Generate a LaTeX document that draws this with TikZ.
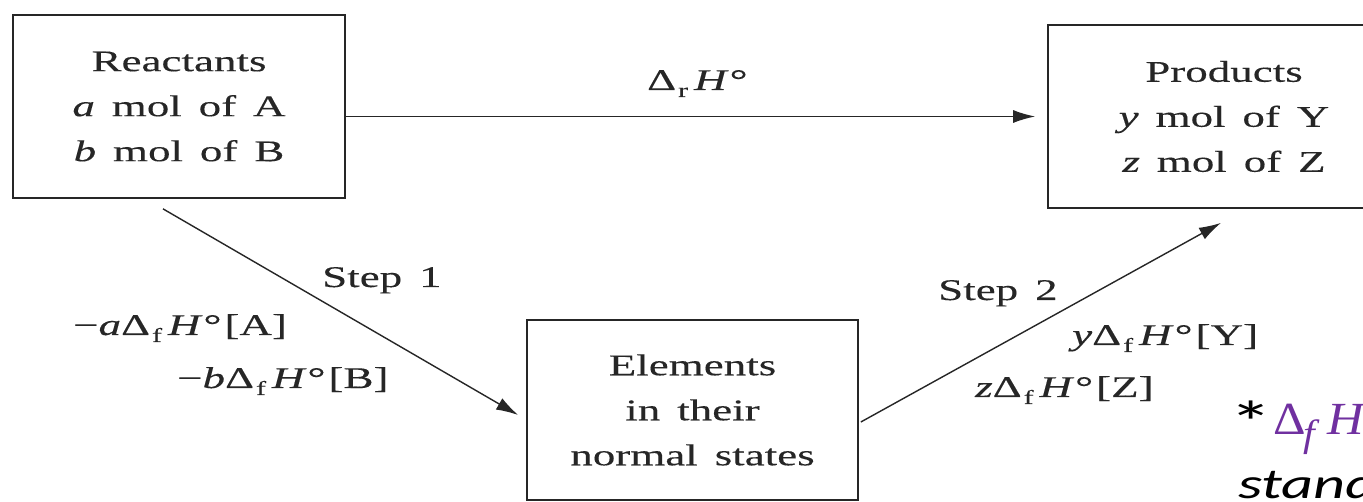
\documentclass[tikz,border=0pt]{standalone}
\usepackage{fontspec}
\setmainfont{Liberation Serif}[FakeStretch=1.5,WordSpace=1.5,FakeBold=0.25]
\newfontfamily\calibrifont{Carlito}[FakeStretch=1.45]
\newfontfamily\plainserif{Liberation Serif}[FakeStretch=1.1]
\usetikzlibrary{arrows.meta,calc}
\definecolor{ink}{HTML}{262626}
\definecolor{purp}{HTML}{7030A0}
\newcommand\DeltaSub[1]{Δ\kern2pt\raisebox{-7pt}{\fontsize{20}{20}\selectfont #1}\kern6pt\textit{H}\kern1pt°\kern3pt}
\begin{document}
\begin{tikzpicture}[x=1pt,y=-1pt,
  box/.style={draw=ink,line width=1.7pt,text=ink,align=center,inner sep=0pt,font=\fontsize{30}{45}\selectfont},
  lab/.style={text=ink,anchor=base west,inner sep=0pt,font=\fontsize{30}{36}\selectfont},
  arr/.style={draw=ink,line width=1.4pt,-{Latex[length=22pt,width=13pt]}}]
\useasboundingbox (0,0) rectangle (1363,502);
\clip (0,0) rectangle (1363,502);
\fill[white] (0,0) rectangle (1363,502);
\node[box,minimum width=332pt,minimum height=183pt] (R) at (179,106.5) {Reactants\\\textit{a} mol of A\\\textit{b} mol of B};
\node[box,minimum width=352pt,minimum height=183pt] (P) at (1224,116.5) {Products\\\textit{y} mol of Y\\\textit{z} mol of Z};
\node[box,minimum width=331pt,minimum height=180pt] (E) at (692.5,410) {Elements\\in their\\normal states};
\draw[arr] (R.east |- P.west) -- ($(P.west)+(-12,0)$);
\draw[arr] ($(R.south)+(-16,10)$) -- ($(E.west)+(-8,5)$);
\draw[arr] ($(E.east)+(2,12)$) -- ($(P.south)+(-3,14)$);
\node[lab] (dr) at (647,90) {\DeltaSub{r}};
\node[lab] (s1) at (322,287) {Step 1};
\node[lab] (la) at (73,335) {−\textit{a}\DeltaSub{f}[A]};
\node[lab] (lb) at (177,388) {−\textit{b}\DeltaSub{f}[B]};
\node[lab] (s2) at (938,300) {Step 2};
\node[lab] (ly) at (1072,345) {\textit{y}\DeltaSub{f}[Y]};
\node[lab] (lz) at (975,397) {\textit{z}\DeltaSub{f}[Z]};
\node[anchor=base west,inner sep=0pt,font=\calibrifont\fontsize{60}{60}\selectfont] (star) at (1229,443) {*};
\node[anchor=base west,inner sep=0pt,text=purp,font=\plainserif\fontsize{46}{46}\selectfont] (dfh) at (1273,435) {\makebox[30pt][l]{Δ}\makebox[24pt][l]{\raisebox{-12pt}{\fontsize{38}{38}\selectfont\itshape f}}\textit{H}};
\node[anchor=base west,inner sep=0pt,font=\calibrifont\itshape\fontsize{43}{43}\selectfont] (std) at (1238,498) {standard};
\end{tikzpicture}
\end{document}
